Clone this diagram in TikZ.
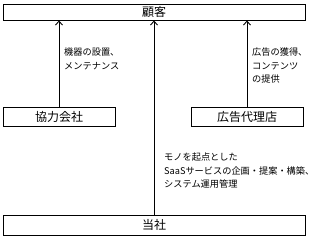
\documentclass[tikz,border=0pt]{standalone}
\usepackage{fontspec}
\setmainfont{Noto Sans CJK JP}
\usetikzlibrary{positioning, arrows.meta}
\tikzset{
    partybox/.style={rectangle, draw=black, line width=0.9pt, inner sep=0pt, font=\fontsize{12}{14}\selectfont},
    flowlabel/.style={anchor=north west, align=left, inner sep=0pt, font=\fontsize{9.2}{13.5}\selectfont},
    flow/.style={-{Straight Barb[length=4pt,width=7pt]}, line width=0.9pt},
}
\begin{document}
\begin{tikzpicture}[x=1pt, y=-1pt]
    \useasboundingbox (0,0) rectangle (316,237);
    % Boxes
    \node[partybox, minimum width=302, minimum height=16] (customer) at (154,12) {顧客};
    \node[partybox, minimum width=112, minimum height=19] (partner) at (59,116.5) {協力会社};
    \node[partybox, minimum width=112, minimum height=19] (agency) at (247,116.5) {広告代理店};
    \node[partybox, minimum width=302, minimum height=20] (company) at (154,225) {当社};

    % Flows to customer
    \draw[flow] (partner.north) -- (partner.north |- customer.south);
    \draw[flow] (agency.north) -- (agency.north |- customer.south);
    \draw[flow] (company.north) -- (customer.south);

    % Labels
    \node[flowlabel] (partnerlbl) at (64,48) {機器の設置、\\メンテナンス};
    \node[flowlabel] (agencylbl) at (252,48) {広告の獲得、\\コンテンツ\\の提供};
    \node[flowlabel] (companylbl) at (164,153) {モノを起点とした\\SaaSサービスの企画・提案・構築、\\システム運用管理};
\end{tikzpicture}
\end{document}
